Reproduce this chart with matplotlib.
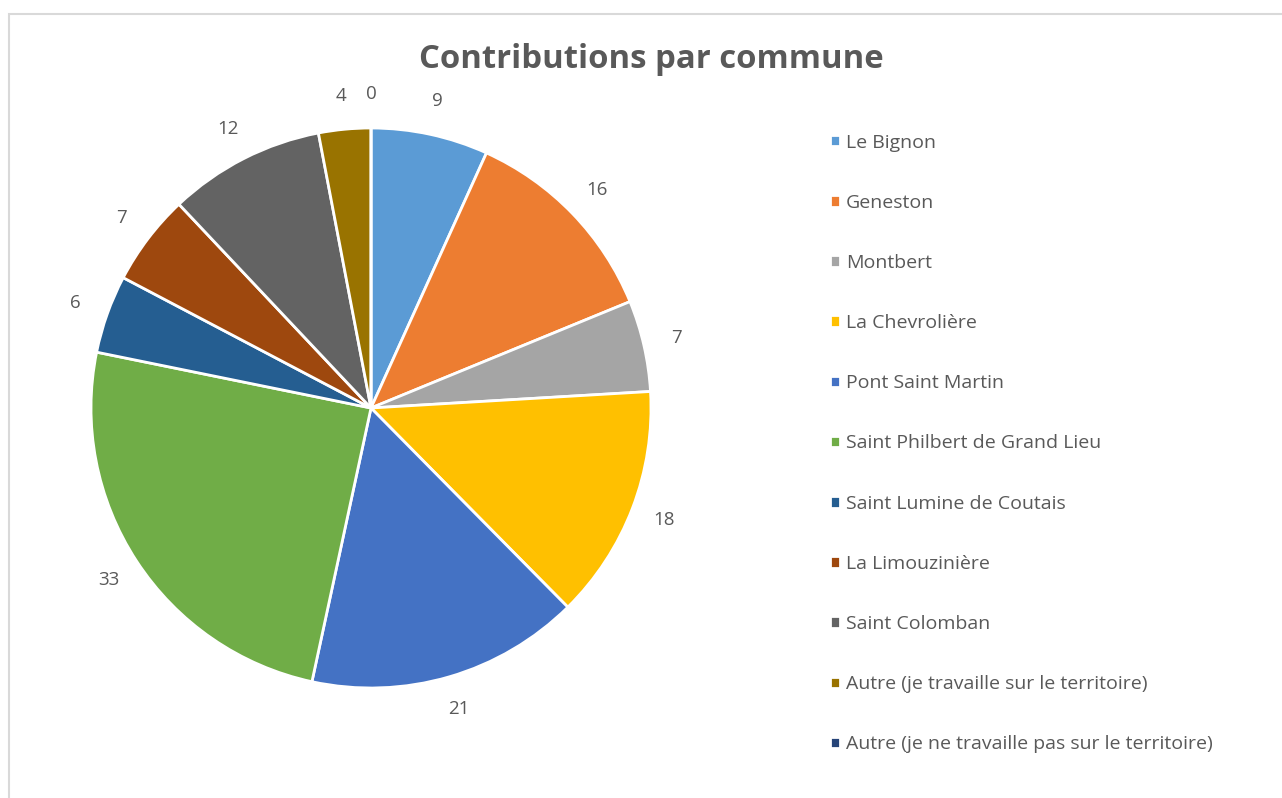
import matplotlib.pyplot as plt
from matplotlib.patches import Rectangle

communes = ['Le Bignon', 'Geneston', 'Montbert', 'La Chevrolière', 'Pont Saint Martin',
            'Saint Philbert de Grand Lieu', 'Saint Lumine de Coutais', 'La Limouzinière',
            'Saint Colomban', 'Autre (je travaille sur le territoire)',
            'Autre (je ne travaille pas sur le territoire)']
contributions = [9, 16, 7, 18, 21, 33, 6, 7, 12, 4, 0]
couleurs = ['#5B9BD5', '#ED7D31', '#A5A5A5', '#FFC000', '#4472C4', '#70AD47',
            '#255E91', '#9E480E', '#636363', '#997300', '#264478']

gris = '#595959'
plt.rcParams['font.family'] = ['Open Sans', 'DejaVu Sans']

W, H = 1282, 798
fig = plt.figure(figsize=(W / 100, H / 100), dpi=100)

# cadre du graphique
fig.patches.append(Rectangle((9 / W, -0.05), 1.2, 1 - 14 / H + 0.05, transform=fig.transFigure,
                             fill=False, edgecolor='#D9D9D9', linewidth=1.5))

# axes du camembert : centre (371, 408), rayon 280 px
cx, cy, r = 371, 408, 280
ax = fig.add_axes([(cx - 1.25 * r) / W, (H - cy - 1.25 * r) / H, 2.5 * r / W, 2.5 * r / H])
wedges, texts = ax.pie(contributions, colors=couleurs, startangle=90, counterclock=False,
                       labels=[str(v) for v in contributions], labeldistance=1.12,
                       wedgeprops=dict(edgecolor='white', linewidth=2),
                       textprops=dict(color=gris, fontsize=13.5))
for t in texts:
    t.set_horizontalalignment('center')
    t.set_verticalalignment('center')
ax.set_xlim(-1.25, 1.25)
ax.set_ylim(-1.25, 1.25)
ax.set_aspect('equal')
ax.axis('off')

fig.text(651 / W, 1 - 59 / H, 'Contributions par commune', ha='center', va='center',
         fontsize=23.7, fontweight='bold', color=gris)

leg = fig.legend(wedges, communes, loc='upper left', bbox_to_anchor=(812 / W, 1 - 116 / H),
                 frameon=False, fontsize=14, labelspacing=2.17, handlelength=0.55,
                 handleheight=0.55, handletextpad=0.3, labelcolor=gris)

plt.savefig('out.png', dpi=100)
